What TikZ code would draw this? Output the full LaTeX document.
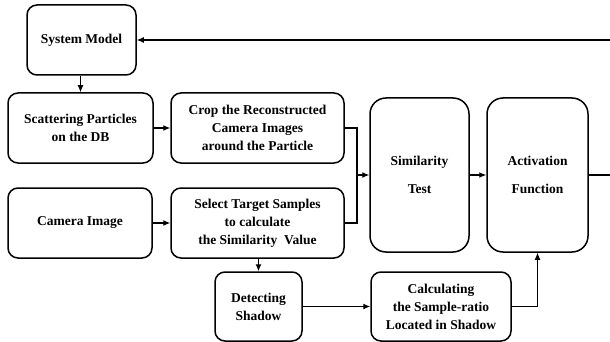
\documentclass[tikz,border=0pt]{standalone}
\usepackage{fontspec}
\setmainfont{Liberation Serif}[BoldFont={Liberation Serif Bold}]
\usetikzlibrary{arrows.meta}
\begin{document}
\begin{tikzpicture}[x=1pt,y=-1pt,
  box/.style={draw,line width=1.5pt,rounded corners=10pt,align=center,
    font=\rmfamily\fontsize{13.5}{18}\selectfont\bfseries,inner sep=0pt},
  tall/.style={box,rounded corners=16pt},
  link/.style={line width=1.1pt,-{Latex[length=7pt,width=6pt]}},
  plain/.style={line width=1.1pt}]
\useasboundingbox (0,0) rectangle (610,342);

\node[box,minimum width=109pt,minimum height=70pt] (sys) at (81.5,40) {System Model};
\node[box,minimum width=145pt,minimum height=70pt] (scat) at (80.5,128) {Scattering Particles\\on the DB};
\node[box,minimum width=173pt,minimum height=70pt] (crop) at (257.5,128) {Crop the Reconstructed\\Camera Images\\around the Particle};
\node[box,minimum width=144pt,minimum height=70pt] (cam) at (80,223) {Camera Image};
\node[box,minimum width=173pt,minimum height=70pt] (sel) at (257.5,223) {Select Target Samples\\to calculate\\the Similarity\ \ Value};
\node[box,minimum width=87pt,minimum height=69pt] (det) at (258.5,306.5) {Detecting\\Shadow};
\node[box,minimum width=140pt,minimum height=69pt] (calc) at (441,306.5) {Calculating\\the Sample-ratio\\Located in Shadow};
\node[tall,minimum width=99pt,minimum height=154pt] (sim) at (419.5,175) {Similarity\\[10pt]Test};
\node[tall,minimum width=101pt,minimum height=154pt] (act) at (537.5,175) {Activation\\[10pt]Function};

\coordinate (join) at (357,175);
\coordinate (back) at (625,175);

\draw[link] (sys.south -| scat.north) -- (scat.north);
\draw[link] (scat.east) -- (crop.west);
\draw[link] (cam.east) -- (sel.west);
\draw[plain] (crop.east) -| (join);
\draw[plain] (sel.east) -| (join);
\draw[link] (join) -- (sim.west);
\draw[link] (sim.east) -- (act.west);
\draw[link] (sel.south -| det.north) -- (det.north);
\draw[link] (det.east) -- (calc.west);
\draw[link] (calc.east) -| (act.south);
\draw[link] (act.east) -- (back) |- (sys.east);
\end{tikzpicture}
\end{document}
